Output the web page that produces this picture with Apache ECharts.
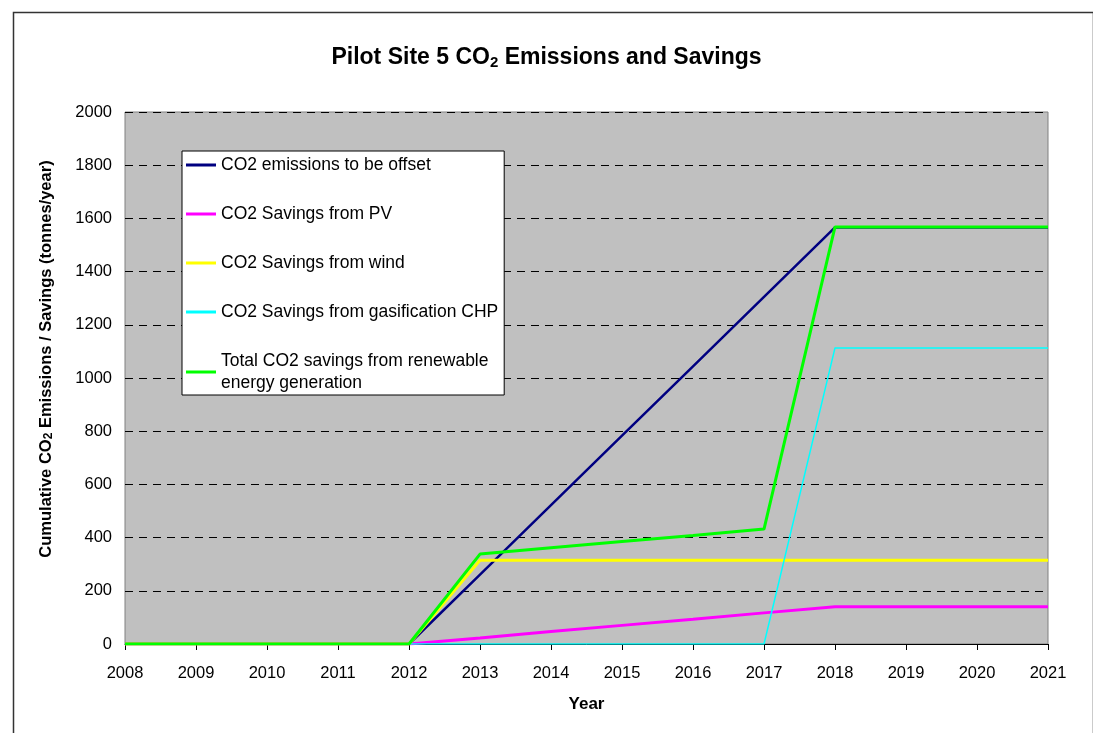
<!DOCTYPE html>
<html>
<head>
<meta charset="utf-8">
<script src="https://cdn.jsdelivr.net/npm/echarts@6/dist/echarts.min.js"></script>
<style>
html,body{margin:0;padding:0;background:#fff;}
#chart{width:1093px;height:733px;}
</style>
</head>
<body>
<div id="chart"></div>
<script>
const years = ['2008','2009','2010','2011','2012','2013','2014','2015','2016','2017','2018','2019','2020','2021'];
const emissions = [0,0,0,0,0,261,522,783,1044,1305,1566,1566,1566,1566];
const pv = [0,0,0,0,0,23,47,70,93,117,140,140,140,140];
const wind = [0,0,0,0,0,315,315,315,315,315,315,315,315,315];
const chp = [0,0,0,0,0,0,0,0,0,0,1113,1113,1113,1113];
const total = [0,0,0,0,0,338,362,385,408,432,1568,1568,1568,1568];
const yTicks = [0,200,400,600,800,1000,1200,1400,1600,1800,2000];

const seriesNames = [
  'CO2 emissions to be offset',
  'CO2 Savings from PV',
  'CO2 Savings from wind',
  'CO2 Savings from gasification CHP',
  'Total CO2 savings from renewable\nenergy generation'
];

const chart = echarts.init(document.getElementById('chart'));
const font = 'Arial, "Liberation Sans", sans-serif';
function mk(name, data, color, width, z) {
  return {name, type:'line', data, symbol:'none', z,
    lineStyle:{color, width}, itemStyle:{color}};
}
chart.setOption({
  animation:false,
  backgroundColor:'#fff',
  graphic:[{type:'rect', left:11, top:10, shape:{width:1080, height:740},
    style:{fill:'none', stroke:'#333', lineWidth:1.5}, silent:true}],
  title:{
    text:'Pilot Site 5 CO{sub|2} Emissions and Savings',
    left:'center', top:41,
    textStyle:{fontFamily:font, fontSize:23, fontWeight:'bold', color:'#000',
      rich:{sub:{fontFamily:font, fontSize:15, fontWeight:'bold', verticalAlign:'bottom', padding:[9,0,0,0]}}}
  },
  grid:{left:125, right:45, top:112, bottom:89, show:true, backgroundColor:'#C0C0C0',
    borderColor:'#808080', borderWidth:1},
  legend:{
    orient:'vertical', left:182, top:151,
    backgroundColor:'#fff', borderColor:'#000', borderWidth:1,
    padding:[3,6,1,4], itemGap:27, itemWidth:30, itemHeight:14,
    icon:'path://M0,5.5 L30,5.5 L30,8.5 L0,8.5 Z',
    textStyle:{fontFamily:font, fontSize:17.5, color:'#000', lineHeight:22},
    data:seriesNames
  },
  xAxis:{
    type:'category', data:years, boundaryGap:false,
    name:'Year', nameLocation:'middle', nameGap:52,
    nameTextStyle:{fontFamily:font, fontSize:17, fontWeight:'bold', color:'#000'},
    axisLine:{show:true, lineStyle:{color:'#000', width:1}},
    axisTick:{show:true, length:6, lineStyle:{color:'#000'}},
    axisLabel:{fontFamily:font, fontSize:16.5, color:'#000', margin:21},
    splitLine:{show:false}
  },
  yAxis:{
    type:'value', min:0, max:2000, interval:200,
    name:'Cumulative CO{sub|2} Emissions / Savings (tonnes/year)',
    nameLocation:'middle', nameGap:70, nameRotate:90,
    nameTextStyle:{fontFamily:font, fontSize:16.5, fontWeight:'bold', color:'#000', padding:[0,0,0,38],
      rich:{sub:{fontFamily:font, fontSize:12, fontWeight:'bold', verticalAlign:'bottom', padding:[6,0,0,0]}}},
    axisLine:{show:false},
    axisTick:{show:false},
    axisLabel:{fontFamily:font, fontSize:16.5, color:'#000', margin:13,
      formatter:v => yTicks.includes(v) ? String(v) : ''},
    splitLine:{show:true, lineStyle:{color:'#000', type:[8,6], width:1}}
  },
  series:[
    mk(seriesNames[0], emissions, '#000080', 2.5, 2),
    mk(seriesNames[1], pv, '#FF00FF', 3, 3),
    mk(seriesNames[2], wind, '#FFFF00', 3, 4),
    mk(seriesNames[3], chp, '#00FFFF', 1.5, 5),
    mk(seriesNames[4], total, '#00FF00', 3, 6)
  ]
});
</script>
</body>
</html>
